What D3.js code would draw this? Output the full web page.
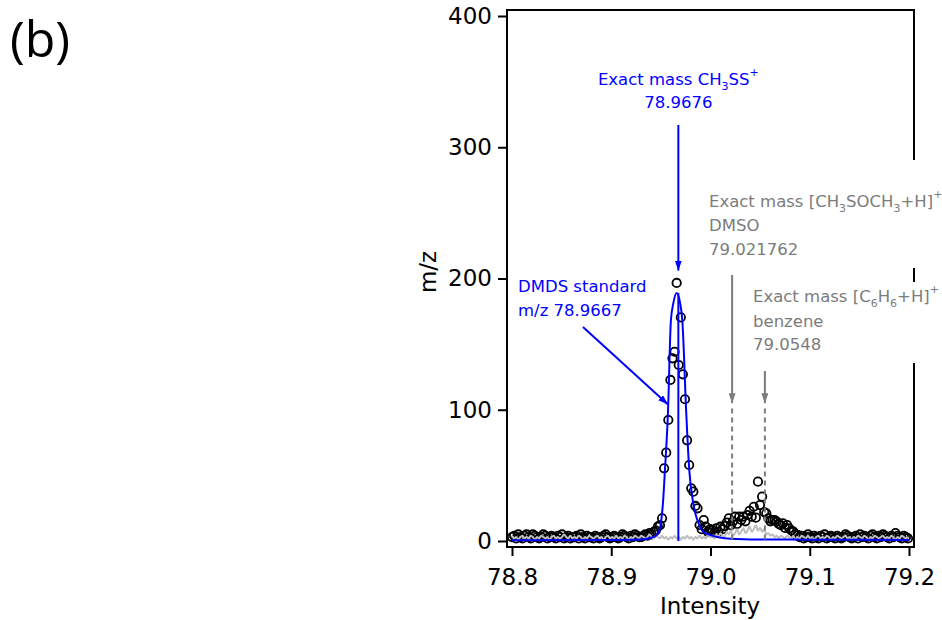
<!DOCTYPE html>
<html>
<head>
<meta charset="utf-8">
<script src="https://d3js.org/d3.v7.min.js"></script>
<style>
  html, body { margin: 0; padding: 0; background: #fff; }
  svg { display: block; }
</style>
</head>
<body>
<div id="chart"></div>
<script>
// Spectrum sampling grid (m/z of first point and spacing between points).
const mzStart = 78.8;
const mzStep = 0.0021;

// Measured intensities (open circles), one per grid point.
const measured = [
  3, 4, 2, 5, 3, 2, 4, 5, 3, 2,
  5, 4, 3, 2, 3, 5, 4, 2, 3, 4,
  3, 2, 4, 3, 5, 2, 3, 4, 2, 3,
  3, 4, 2, 5, 3, 2, 4, 3, 3, 2,
  4, 3, 2, 3, 4, 5, 3, 2, 3, 4,
  3, 2, 3, 5, 4, 3, 2, 4, 3, 5,
  4, 3, 3, 4, 5, 4, 6, 5, 7, 8,
  10.9, 12, 17.3, 55.4, 67.3, 92.2, 122.7, 139.2, 144.2, 196.6,
  134.1, 170.4, 127, 108, 76.7, 57.9, 40.1, 37.6, 26.7, 24.9,
  12.2, 9, 16, 11, 7, 9, 8.4, 6, 9.7, 7,
  10.9, 9, 11.4, 14, 17.3, 12, 15, 18.5, 13, 18.5,
  16, 18.5, 15, 19.8, 23, 18.5, 26.1, 17.8, 45.2, 27.4,
  33.8, 22, 21.1, 17.3, 15, 16, 16, 14.7, 13, 12,
  13.5, 10, 12.2, 9.7, 8, 7.1, 5, 4.6, 3, 4,
  2, 3, 5, 3, 2, 4, 3, 2, 4, 3,
  5, 2, 3, 4, 3, 2, 4, 3, 2, 3,
  5, 4, 3, 2, 3, 4, 2, 5, 3, 4,
  3, 2, 4, 5, 3, 2, 4, 3, 5, 4,
  3, 2, 4, 3, 6, 4, 3, 2, 4, 3,
  2
];

// Background spectrum (grey line), same grid.
const background = [
  4, 2, 3, 1, 3, 4, 2, 3, 2, 4,
  3, 1, 3, 2, 4, 3, 2, 3, 1, 3,
  4, 2, 3, 2, 3, 5, 3, 2, 4, 2,
  3, 2, 4, 3, 1, 3, 2, 4, 3, 2,
  3, 4, 2, 3, 1, 3, 4, 2, 3, 2,
  4, 2, 3, 2, 4, 3, 1, 3, 2, 4,
  3, 2, 4, 3, 2, 3, 5, 3, 2, 4,
  3, 2, 4, 2, 3, 1, 3, 2, 4, 2,
  3, 1, 3, 2, 4, 2, 3, 1, 3, 2,
  4, 2, 3, 2, 5, 3, 4, 2, 5, 3,
  6, 4, 3, 7, 5, 8, 4, 6, 9, 5,
  7, 10, 6, 8, 11, 7, 9, 12, 8, 10,
  7, 9, 5, 6, 4, 5, 3, 4, 2, 4,
  3, 2, 4, 3, 2, 4, 1, 3, 2, 4,
  3, 2, 4, 2, 3, 1, 3, 4, 2, 3,
  2, 4, 3, 1, 3, 2, 4, 3, 2, 3,
  4, 2, 3, 1, 3, 2, 4, 3, 2, 4,
  3, 1, 3, 2, 4, 3, 2, 3, 4, 2,
  3, 2, 4, 3, 1, 3, 2, 4, 3, 2,
  3
];

// Fitted DMDS peak (blue line).
const fitMz = [
  78.8, 78.9, 78.93, 78.94, 78.945, 78.948, 78.9501, 78.9521, 78.9541,
  78.9571, 78.9601, 78.9625, 78.9659, 78.9692, 78.9716, 78.9756, 78.9786,
  78.9826, 78.9851, 78.9877, 78.9927, 79.0, 79.02, 79.05, 79.1, 79.2
];
const fitIntensity = [
  0.5, 0.8, 1.2, 2.5, 4, 7, 14, 29, 54,
  97, 168, 181, 189, 182, 168, 97, 54,
  29, 20, 14, 7, 4.5, 1.8, 1.2, 1, 0.8
];

// Reference masses.
const exactCH3SS = 78.9676;
const exactDMSO = 79.021762;
const exactBenzene = 79.0548;
const dmdsStandard = 78.9667;

// Axis ticks.
const xTicks = [78.8, 78.9, 79.0, 79.1, 79.2];
const yTicks = [0, 100, 200, 300, 400];

/**
 * Layout.
 */
const width = 942;
const height = 620;
const frame = { left: 507, right: 914, top: 10, bottom: 547 };
const font = "'DejaVu Sans', Verdana, sans-serif";
const blue = "#0000ff";
const grey = "#7c7c7c";

const svg = d3.select("#chart")
  .append("svg")
  .attr("width", width)
  .attr("height", height);

const x = d3.scaleLinear().domain([78.8, 79.2]).range([512, 909]);
const y = d3.scaleLinear().domain([0, 400]).range([541, 16]);

// Arrowhead markers.
const defs = svg.append("defs");
[["arrow-blue", blue], ["arrow-grey", grey]].forEach(([id, c]) => {
  defs.append("marker")
    .attr("id", id)
    .attr("viewBox", "0 0 10 7")
    .attr("refX", 10)
    .attr("refY", 3.5)
    .attr("markerWidth", 10)
    .attr("markerHeight", 7)
    .attr("markerUnits", "userSpaceOnUse")
    .attr("orient", "auto")
    .append("path")
    .attr("d", "M0,0 L10,3.5 L0,7 z")
    .attr("fill", c);
});

/**
 * Panel label.
 */
svg.append("text")
  .attr("x", 10)
  .attr("y", 57)
  .attr("font-family", "'Open Sans', sans-serif")
  .attr("font-size", 50)
  .text("(b)");

/**
 * Data.
 */
const points = measured.map((v, i) => ({ mz: mzStart + i * mzStep, value: v }));
const bgPoints = background.map((v, i) => ({ mz: mzStart + i * mzStep, value: v }));
const fitPoints = fitMz.map((m, i) => ({ mz: m, value: fitIntensity[i] }));

// Measured spectrum circles.
svg.append("g")
  .selectAll("circle")
  .data(points)
  .join("circle")
  .attr("cx", (d) => x(d.mz))
  .attr("cy", (d) => y(d.value))
  .attr("r", 4.2)
  .attr("fill", "none")
  .attr("stroke", "#000")
  .attr("stroke-width", 1.8);

// Background line.
svg.append("path")
  .datum(bgPoints)
  .attr("fill", "none")
  .attr("stroke", "#bdbdbd")
  .attr("stroke-width", 2)
  .attr("d", d3.line().x((d) => x(d.mz)).y((d) => y(d.value)).curve(d3.curveMonotoneX));

// Fit line.
svg.append("path")
  .datum(fitPoints)
  .attr("fill", "none")
  .attr("stroke", blue)
  .attr("stroke-width", 2)
  .attr("d", d3.line().x((d) => x(d.mz)).y((d) => y(d.value)).curve(d3.curveMonotoneX));

// Stick at the exact mass of CH3SS+, up to the fit maximum.
svg.append("line")
  .attr("x1", x(exactCH3SS))
  .attr("x2", x(exactCH3SS))
  .attr("y1", y(0))
  .attr("y2", y(d3.max(fitIntensity)))
  .attr("stroke", blue)
  .attr("stroke-width", 2);

/**
 * Frame and axes.
 */
svg.append("rect")
  .attr("x", frame.left)
  .attr("y", frame.top)
  .attr("width", frame.right - frame.left)
  .attr("height", frame.bottom - frame.top)
  .attr("fill", "none")
  .attr("stroke", "#000")
  .attr("stroke-width", 2);

const xAxis = svg.append("g")
  .attr("transform", `translate(0, ${frame.bottom})`)
  .call(d3.axisBottom(x).tickValues(xTicks).tickFormat(d3.format(".1f")).tickSize(9).tickPadding(13));

const yAxis = svg.append("g")
  .attr("transform", `translate(${frame.left}, 0)`)
  .call(d3.axisLeft(y).tickValues(yTicks).tickSize(9).tickPadding(6));

[xAxis, yAxis].forEach((g) => {
  g.select(".domain").remove();
  g.selectAll(".tick line").attr("stroke", "#000").attr("stroke-width", 2);
  g.selectAll(".tick text")
    .attr("fill", "#000")
    .attr("font-family", font)
    .attr("font-size", 23);
});

svg.append("text")
  .attr("x", 710)
  .attr("y", 614)
  .attr("text-anchor", "middle")
  .attr("font-family", font)
  .attr("font-size", 23)
  .text("Intensity");

svg.append("text")
  .attr("transform", `translate(436, 272) rotate(-90)`)
  .attr("text-anchor", "middle")
  .attr("font-family", font)
  .attr("font-size", 23)
  .text("m/z");

/**
 * Annotations.
 */
// Helper to write a label line made of [text, kind] runs (kind: "", "sub", "sup").
function richText(parent, px, py, runs, color, anchor) {
  const t = parent.append("text")
    .attr("x", px)
    .attr("y", py)
    .attr("text-anchor", anchor || "start")
    .attr("font-family", font)
    .attr("font-size", 16.5)
    .attr("fill", color);
  let shift = 0;
  runs.forEach(([s, kind]) => {
    const target = kind === "sub" ? 5 : kind === "sup" ? -9 : 0;
    t.append("tspan")
      .attr("dy", target - shift)
      .attr("font-size", kind ? 11 : 16.5)
      .text(s);
    shift = target;
  });
  return t;
}

// CH3SS+ label and arrow.
svg.append("line")
  .attr("x1", x(exactCH3SS))
  .attr("x2", x(exactCH3SS))
  .attr("y1", 125)
  .attr("y2", y(206))
  .attr("stroke", blue)
  .attr("stroke-width", 2)
  .attr("marker-end", "url(#arrow-blue)");
richText(svg, x(exactCH3SS), 85, [["Exact mass CH", ""], ["3", "sub"], ["SS", ""], ["+", "sup"]], blue, "middle");
richText(svg, x(exactCH3SS), 108, [["78.9676", ""]], blue, "middle");

// DMDS standard label and arrow.
richText(svg, 518, 292, [["DMDS standard", ""]], blue);
richText(svg, 518, 316, [["m/z " + dmdsStandard, ""]], blue);
svg.append("line")
  .attr("x1", x(78.8715))
  .attr("y1", y(163))
  .attr("x2", x(78.9572))
  .attr("y2", y(104))
  .attr("stroke", blue)
  .attr("stroke-width", 2)
  .attr("marker-end", "url(#arrow-blue)");

// White boxes behind the grey labels.
svg.append("rect").attr("x", 705).attr("y", 160).attr("width", 237).attr("height", 108).attr("fill", "#fff");
svg.append("rect").attr("x", 749).attr("y", 282).attr("width", 193).attr("height", 81).attr("fill", "#fff");

// DMSO label.
richText(svg, 709, 207, [["Exact mass [CH", ""], ["3", "sub"], ["SOCH", ""], ["3", "sub"], ["+H]", ""], ["+", "sup"]], grey);
richText(svg, 709, 231, [["DMSO", ""]], grey);
richText(svg, 709, 255, [["79.021762", ""]], grey);

// Benzene label.
richText(svg, 753, 302, [["Exact mass [C", ""], ["6", "sub"], ["H", ""], ["6", "sub"], ["+H]", ""], ["+", "sup"]], grey);
richText(svg, 753, 327, [["benzene", ""]], grey);
richText(svg, 753, 350, [["79.0548", ""]], grey);

// Grey arrows and dashed markers at the DMSO and benzene masses.
[[exactDMSO, 275], [exactBenzene, 371]].forEach(([mz, top]) => {
  svg.append("line")
    .attr("x1", x(mz))
    .attr("x2", x(mz))
    .attr("y1", top)
    .attr("y2", y(105))
    .attr("stroke", grey)
    .attr("stroke-width", 2)
    .attr("marker-end", "url(#arrow-grey)");
  svg.append("line")
    .attr("x1", x(mz))
    .attr("x2", x(mz))
    .attr("y1", y(101))
    .attr("y2", y(0))
    .attr("stroke", grey)
    .attr("stroke-width", 2)
    .attr("stroke-dasharray", "5,4");
});
</script>
</body>
</html>
